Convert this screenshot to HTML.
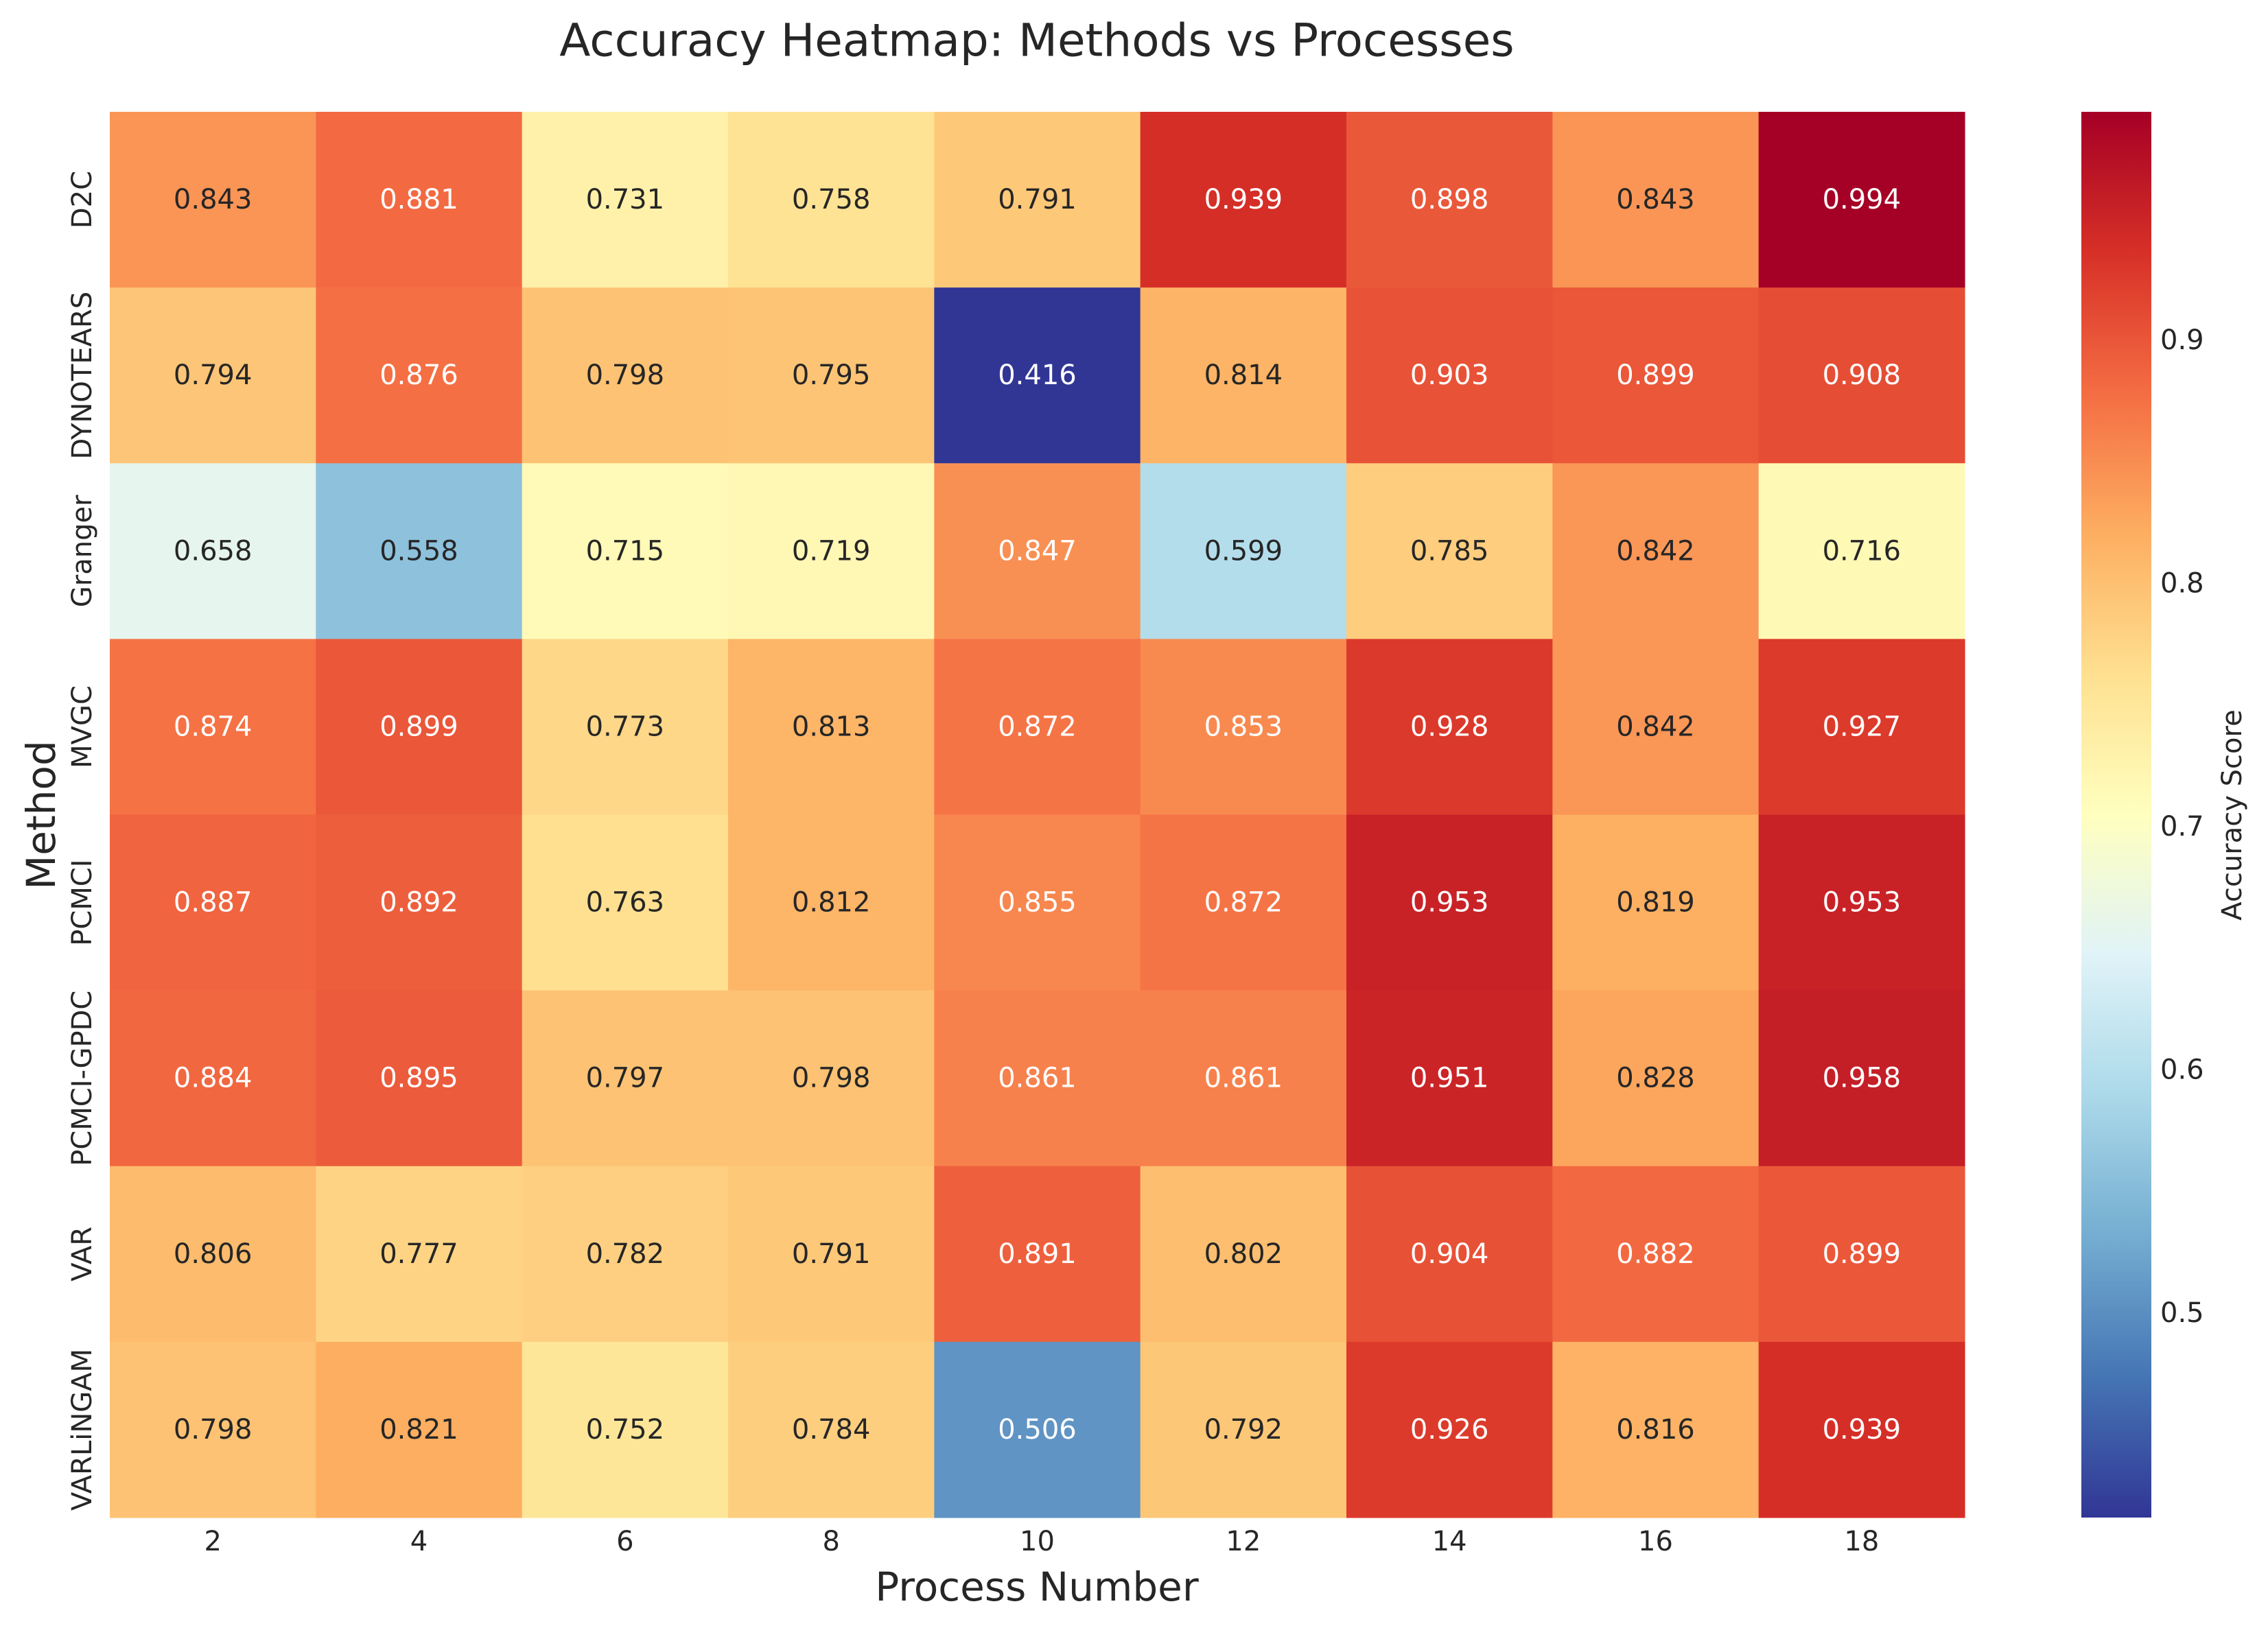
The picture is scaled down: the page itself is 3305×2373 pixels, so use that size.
<!DOCTYPE html>
<html><head><meta charset="utf-8">
<style>
html,body{margin:0;padding:0;background:#fff;}
svg{display:block;font-family:"DejaVu Sans","Liberation Sans",sans-serif;}
</style></head>
<body>
<svg id="chart" width="3305" height="2373" viewBox="0 0 3305 2373" xmlns="http://www.w3.org/2000/svg">
<defs><linearGradient id="cbgrad" x1="0" y1="1" x2="0" y2="0"></linearGradient></defs>
<text x="1511" y="59" font-size="66" fill="#262626" text-anchor="middle" dominant-baseline="central">Accuracy Heatmap: Methods vs Processes</text>
<g id="cells"></g>
<g id="xticks"></g>
<g id="yticks"></g>
<text x="1511" y="2313" font-size="58" fill="#262626" text-anchor="middle" dominant-baseline="central">Process Number</text>
<text x="0" y="0" font-size="58" fill="#262626" text-anchor="middle" dominant-baseline="central" transform="translate(60,1188) rotate(-90)">Method</text>
<rect id="cbar" x="3033" y="163" width="102" height="2049" fill="url(#cbgrad)"></rect>
<g id="cbticks"></g>
<text x="0" y="0" font-size="40" fill="#262626" text-anchor="middle" dominant-baseline="central" transform="translate(3253,1188) rotate(-90)">Accuracy Score</text>
</svg>
<script>
const methods = ["D2C","DYNOTEARS","Granger","MVGC","PCMCI","PCMCI-GPDC","VAR","VARLiNGAM"];
const processes = ["2","4","6","8","10","12","14","16","18"];
const rowD2C = [0.843,0.881,0.731,0.758,0.791,0.939,0.898,0.843,0.994];
const rowDYNOTEARS = [0.794,0.876,0.798,0.795,0.416,0.814,0.903,0.899,0.908];
const rowGranger = [0.658,0.558,0.715,0.719,0.847,0.599,0.785,0.842,0.716];
const rowMVGC = [0.874,0.899,0.773,0.813,0.872,0.853,0.928,0.842,0.927];
const rowPCMCI = [0.887,0.892,0.763,0.812,0.855,0.872,0.953,0.819,0.953];
const rowPCMCIGPDC = [0.884,0.895,0.797,0.798,0.861,0.861,0.951,0.828,0.958];
const rowVAR = [0.806,0.777,0.782,0.791,0.891,0.802,0.904,0.882,0.899];
const rowVARLiNGAM = [0.798,0.821,0.752,0.784,0.506,0.792,0.926,0.816,0.939];
const colorbarTicks = [0.5,0.6,0.7,0.8,0.9];

const rows = [rowD2C,rowDYNOTEARS,rowGranger,rowMVGC,rowPCMCI,rowPCMCIGPDC,rowVAR,rowVARLiNGAM];
const NS="http://www.w3.org/2000/svg";
const L=160,R=2863,T=163,B=2212;
const all=rows.flat();
const vmin=Math.min(...all), vmax=Math.max(...all);
const cw=(R-L)/processes.length, ch=(B-T)/methods.length;
const xPos=i=>L+i*cw, yPos=j=>T+j*ch;
const stops=["#313695","#4575b4","#74add1","#abd9e9","#e0f3f8","#ffffbf","#fee090","#fdae61","#f46d43","#d73027","#a50026"];
const hex=h=>[1,3,5].map(k=>parseInt(h.substr(k,2),16));
function cmap(v){
  let t=(v-vmin)/(vmax-vmin); t=Math.max(0,Math.min(1,t));
  const p=t*10, i=Math.min(9,Math.floor(p)), f=p-i;
  const a=hex(stops[i]), b=hex(stops[i+1]);
  return a.map((c,k)=>Math.round(c+(b[k]-c)*f));
}
function lum(rgb){
  const c=rgb.map(x=>{x/=255;return x<=0.03928?x/12.92:Math.pow((x+0.055)/1.055,2.4);});
  return 0.2126*c[0]+0.7152*c[1]+0.0722*c[2];
}
const cells=document.getElementById('cells');
rows.forEach((row,j)=>{
  row.forEach((v,i)=>{
    const rgb=cmap(v);
    const r=document.createElementNS(NS,'rect');
    
    
    r.setAttribute('x',xPos(i)); r.setAttribute('y',yPos(j));
    r.setAttribute('width',cw+0.6); r.setAttribute('height',ch+0.6);
    r.setAttribute('fill','rgb('+rgb.join(',')+')');
    cells.appendChild(r);
    const t=document.createElementNS(NS,'text');
    
    
    t.setAttribute('x',xPos(i)+cw/2); t.setAttribute('y',yPos(j)+ch/2);
    t.setAttribute('font-size','40'); t.setAttribute('text-anchor','middle');
    t.setAttribute('dominant-baseline','central');
    t.setAttribute('fill',lum(rgb)>0.408?'#262626':'#ffffff');
    t.textContent=v.toFixed(3);
    cells.appendChild(t);
  });
});
const xt=document.getElementById('xticks');
processes.forEach((p,i)=>{
  const t=document.createElementNS(NS,'text');
  
  
  t.setAttribute('x',xPos(i)+cw/2); t.setAttribute('y',2247);
  t.setAttribute('font-size','40'); t.setAttribute('fill','#262626');
  t.setAttribute('text-anchor','middle'); t.setAttribute('dominant-baseline','central');
  t.textContent=p; xt.appendChild(t);
});
const yt=document.getElementById('yticks');
methods.forEach((m,j)=>{
  const t=document.createElementNS(NS,'text');
  
  
  t.setAttribute('font-size','40'); t.setAttribute('fill','#262626');
  t.setAttribute('text-anchor','middle'); t.setAttribute('dominant-baseline','central');
  t.setAttribute('transform','translate(120,'+(yPos(j)+ch/2)+') rotate(-90)');
  t.textContent=m; yt.appendChild(t);
});
const grad=document.getElementById('cbgrad');
stops.forEach((s,k)=>{
  const st=document.createElementNS(NS,'stop');
  st.setAttribute('offset',(k/10*100)+'%'); st.setAttribute('stop-color',s);
  grad.appendChild(st);
});
const cb=document.getElementById('cbticks');
const cbY=v=>B-(v-vmin)/(vmax-vmin)*(B-T);
colorbarTicks.forEach(v=>{
  const t=document.createElementNS(NS,'text');
  
  
  t.setAttribute('x',3148); t.setAttribute('y',cbY(v));
  t.setAttribute('font-size','40'); t.setAttribute('fill','#262626');
  t.setAttribute('dominant-baseline','central');
  t.textContent=v.toFixed(1); cb.appendChild(t);
});
</script>
</body></html>
